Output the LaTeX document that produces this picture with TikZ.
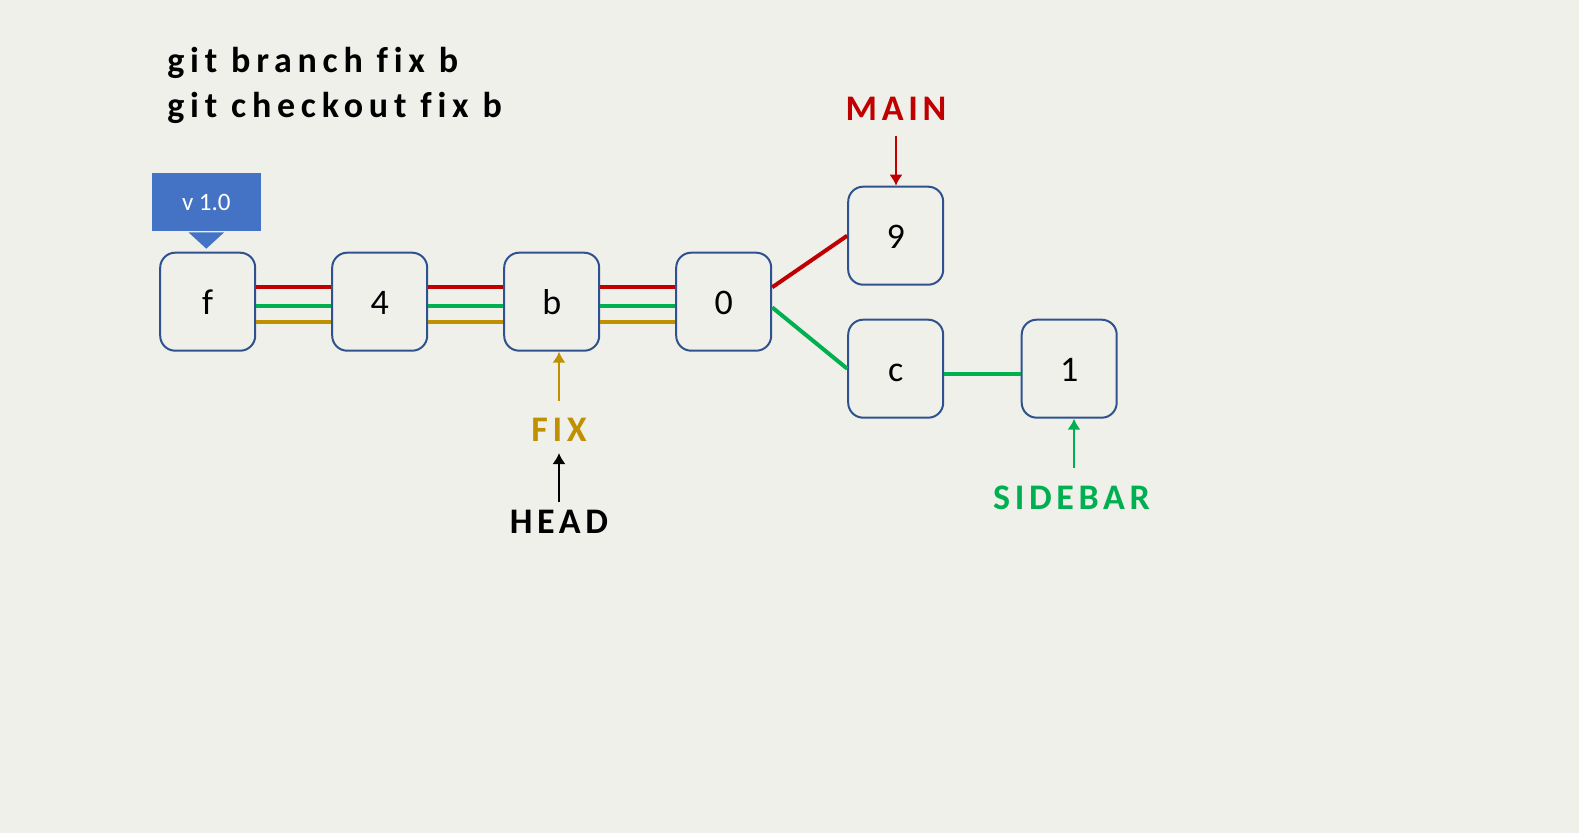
\documentclass[tikz,border=0pt]{standalone}
\usepackage{fontspec}
\setmainfont{Carlito}
\newfontfamily\cmdfont[LetterSpace=16,Ligatures=NoCommon]{Carlito}
\newfontfamily\lblfont[LetterSpace=13,Ligatures=NoCommon]{Carlito}
\usetikzlibrary{arrows.meta,positioning}
\definecolor{bgcol}{RGB}{240,240,235}
\definecolor{boxblue}{RGB}{47,82,143}
\definecolor{tagblue}{RGB}{68,114,196}
\definecolor{mainred}{RGB}{192,0,0}
\definecolor{sidegreen}{RGB}{0,176,80}
\definecolor{fixgold}{RGB}{191,144,0}
\tikzstyle{commit} = [draw=boxblue, line width=1pt, rectangle, rounded corners=7.5pt, minimum width=47.5pt, minimum height=49pt, text centered, text height=13.3pt, text depth=0pt, font=\fontsize{18}{20}\selectfont]
\tikzstyle{line} = [draw, line width=2pt]
\tikzstyle{ptr} = [draw, line width=1pt, -{Latex[length=5.5pt,width=6.6pt]}]
\tikzstyle{branch} = [inner sep=0pt, font=\lblfont\bfseries\fontsize{18}{20}\selectfont]
\tikzstyle{cmd} = [inner sep=0pt, anchor=base west, font=\cmdfont\bfseries\fontsize{18}{20}\selectfont]
\tikzstyle{tag} = [fill=tagblue, text=white, inner sep=0pt, minimum width=54.35pt, minimum height=28.7pt, font=\fontsize{12.5}{14}\selectfont]

\begin{document}
\begin{tikzpicture}[x=0.5pt, y=-0.5pt, node distance=86pt]
    \fill[bgcol] (0,0) rectangle (1579,833);
    \node[cmd] (cmd1) at (167,72.5) {git branch fix b};
    \node[cmd] (cmd2) at (167,117.5) {git checkout fix b};
    \node[commit] (cf) at (207.7,301.7) {f};
    \node[commit, right of=cf] (c4) {4};
    \node[commit, right of=c4] (cb) {b};
    \node[commit, right of=cb] (c0) {0};
    \node[commit, right of=c0, yshift=33pt] (c9) {9};
    \node[commit, right of=c0, yshift=-33.5pt] (cc) {c};
    \node[commit, right of=cc, node distance=86.75pt] (c1) {1};
    \node[tag] (v10) at (206.3,202) {v 1.0};
    \fill[tagblue] ([xshift=-8.9pt,yshift=-0.65pt]v10.south) -- ([xshift=8.9pt,yshift=-0.65pt]v10.south) -- ([yshift=-8.8pt]v10.south) -- cycle;
    \node[branch, text=mainred] (main) at (896,108.5) {MAIN};
    \node[branch, text=fixgold] (fix) at (559,430) {FIX};
    \node[branch] (head) at (559,521.5) {HEAD};
    \node[branch, text=sidegreen] (side) at (1071.5,498) {SIDEBAR};
    \path[line, mainred] ([yshift=7.2pt]cf.east) -- ([yshift=7.2pt]c4.west);
    \path[line, sidegreen] ([yshift=-2.15pt]cf.east) -- ([yshift=-2.15pt]c4.west);
    \path[line, fixgold] ([yshift=-10.3pt]cf.east) -- ([yshift=-10.3pt]c4.west);
    \path[line, mainred] ([yshift=7.2pt]c4.east) -- ([yshift=7.2pt]cb.west);
    \path[line, sidegreen] ([yshift=-2.15pt]c4.east) -- ([yshift=-2.15pt]cb.west);
    \path[line, fixgold] ([yshift=-10.3pt]c4.east) -- ([yshift=-10.3pt]cb.west);
    \path[line, mainred] ([yshift=7.2pt]cb.east) -- ([yshift=7.2pt]c0.west);
    \path[line, sidegreen] ([yshift=-2.15pt]cb.east) -- ([yshift=-2.15pt]c0.west);
    \path[line, fixgold] ([yshift=-10.3pt]cb.east) -- ([yshift=-10.3pt]c0.west);
    \path[line, mainred] ([yshift=7.2pt]c0.east) -- (c9.west);
    \path[line, sidegreen] ([yshift=-2.85pt]c0.east) -- (cc.west);
    \path[line, sidegreen] ([yshift=-2.5pt]cc.east) -- ([yshift=-2.5pt]c1.west);
    \path[ptr, mainred, shorten <=7.5pt] (main.south) -- (main.south |- c9.north);
    \path[ptr, fixgold, shorten <=8.5pt] (fix.north) -- (fix.north |- cb.south);
    \path[ptr, shorten <=3.6pt, shorten >=5.5pt] (head.north) -- (fix.south);
    \path[ptr, sidegreen, shorten <=8.8pt] ([xshift=1.25pt]side.north) -- ([xshift=1.25pt]side.north |- c1.south);
\end{tikzpicture}
\end{document}
